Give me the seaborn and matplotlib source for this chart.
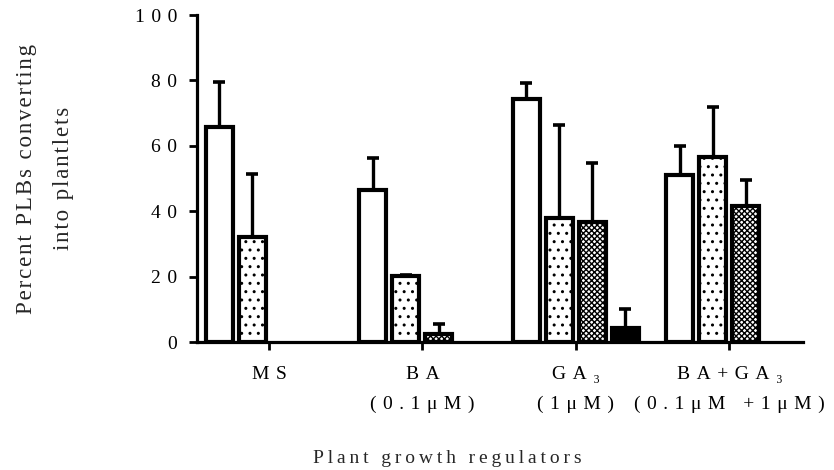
import numpy as np
import pandas as pd
import matplotlib
matplotlib.use("Agg")
import matplotlib.pyplot as plt
import seaborn as sns

# ---- data ----
categories = ["MS", "BA\n(0.1μM)", "GA₃\n(1μM)", "BA+GA₃\n(0.1μM +1μM)"]
series = ["Series 1", "Series 2", "Series 3", "Series 4"]
s1_mean = [65.9, 46.4, 74.3, 51.1]
s1_err = [13.5, 10.0, 4.9, 8.9]
s2_mean = [32.0, 20.2, 37.9, 56.7]
s2_err = [19.5, 0.4, 28.6, 15.3]
s3_mean = [np.nan, 2.6, 36.8, 41.5]
s3_err = [np.nan, 2.9, 17.9, 8.1]
s4_mean = [np.nan, np.nan, 4.2, np.nan]
s4_err = [np.nan, np.nan, 5.9, np.nan]
yticks = [0, 20, 40, 60, 80, 100]
xlabel = "Plant growth regulators"
ylabel = "Percent PLBs converting\ninto plantlets"

means = [s1_mean, s2_mean, s3_mean, s4_mean]
errs = [s1_err, s2_err, s3_err, s4_err]

rows = []
for si, s in enumerate(series):
    for ci, c in enumerate(categories):
        rows.append({"cat": c, "series": s, "val": means[si][ci], "err": errs[si][ci]})
df = pd.DataFrame(rows).dropna(subset=["val"])


def sp(s, sep):
    """letter-spaced text as in the reference"""
    return "\n".join(sep.join(list(line)) for line in s.split("\n"))


WIDE = "\u2004"   # three-per-em space
THIN = "\u2009"   # thin space
HAIR = "\u200a"   # hair space

sns.set_style("ticks")
fam = ["Liberation Serif", "DejaVu Serif"]
plt.rcParams["font.family"] = fam
plt.rcParams["hatch.linewidth"] = 1.0

fig = plt.figure(figsize=(8.34, 4.70), dpi=100)
ax = fig.add_axes([0.236, 0.272, 0.727, 0.696])

width = 0.86
sns.barplot(data=df, x="cat", y="val", hue="series", order=categories,
            hue_order=series, errorbar=None, width=width, gap=0.18,
            palette=["white", "white", "white", "black"],
            edgecolor="black", linewidth=3, legend=False, ax=ax,
            saturation=1)

hatches = ["", "..", "xxxxxx", ""]
nh = len(series)
for bar in ax.patches:
    h = bar.get_height()
    if not np.isfinite(h):
        continue
    xc = bar.get_x() + bar.get_width() / 2
    ci = int(round(xc))
    hi = int(round((xc - ci) / (width / nh) + (nh - 1) / 2))
    bar.set_hatch(hatches[hi])
    e = errs[hi][ci]
    ax.errorbar(xc, h, yerr=[[0], [e]], fmt="none", ecolor="black",
                elinewidth=2.4, capsize=4.5, capthick=2.6, zorder=1)

fs = 14
ax.set_xlim(-0.47, 3.48)
ax.set_ylim(0, 100)
ax.set_yticks(yticks)
ax.set_yticklabels([sp(str(t), WIDE) for t in yticks], fontsize=fs, family=fam)
ax.set_xticks(range(len(categories)))
ax.set_xticklabels([sp(c, WIDE) for c in categories], fontsize=fs, family=fam,
                   linespacing=1.95)
ax.set_xlabel(sp(xlabel, THIN), fontsize=fs, family=fam, labelpad=27, x=0.413)
ax.set_ylabel(sp(ylabel, HAIR), fontsize=16.5, family=fam, labelpad=44,
              linespacing=2.0)

for side in ["top", "right"]:
    ax.spines[side].set_visible(False)
for side in ["left", "bottom"]:
    ax.spines[side].set_linewidth(2.3)
    ax.spines[side].set_color("black")
ax.tick_params(axis="both", direction="out", length=6, width=2, color="black",
               labelcolor="black")
ax.tick_params(axis="y", pad=8)
ax.tick_params(axis="x", pad=11)

fig.savefig("out.png", dpi=100, facecolor="white")
